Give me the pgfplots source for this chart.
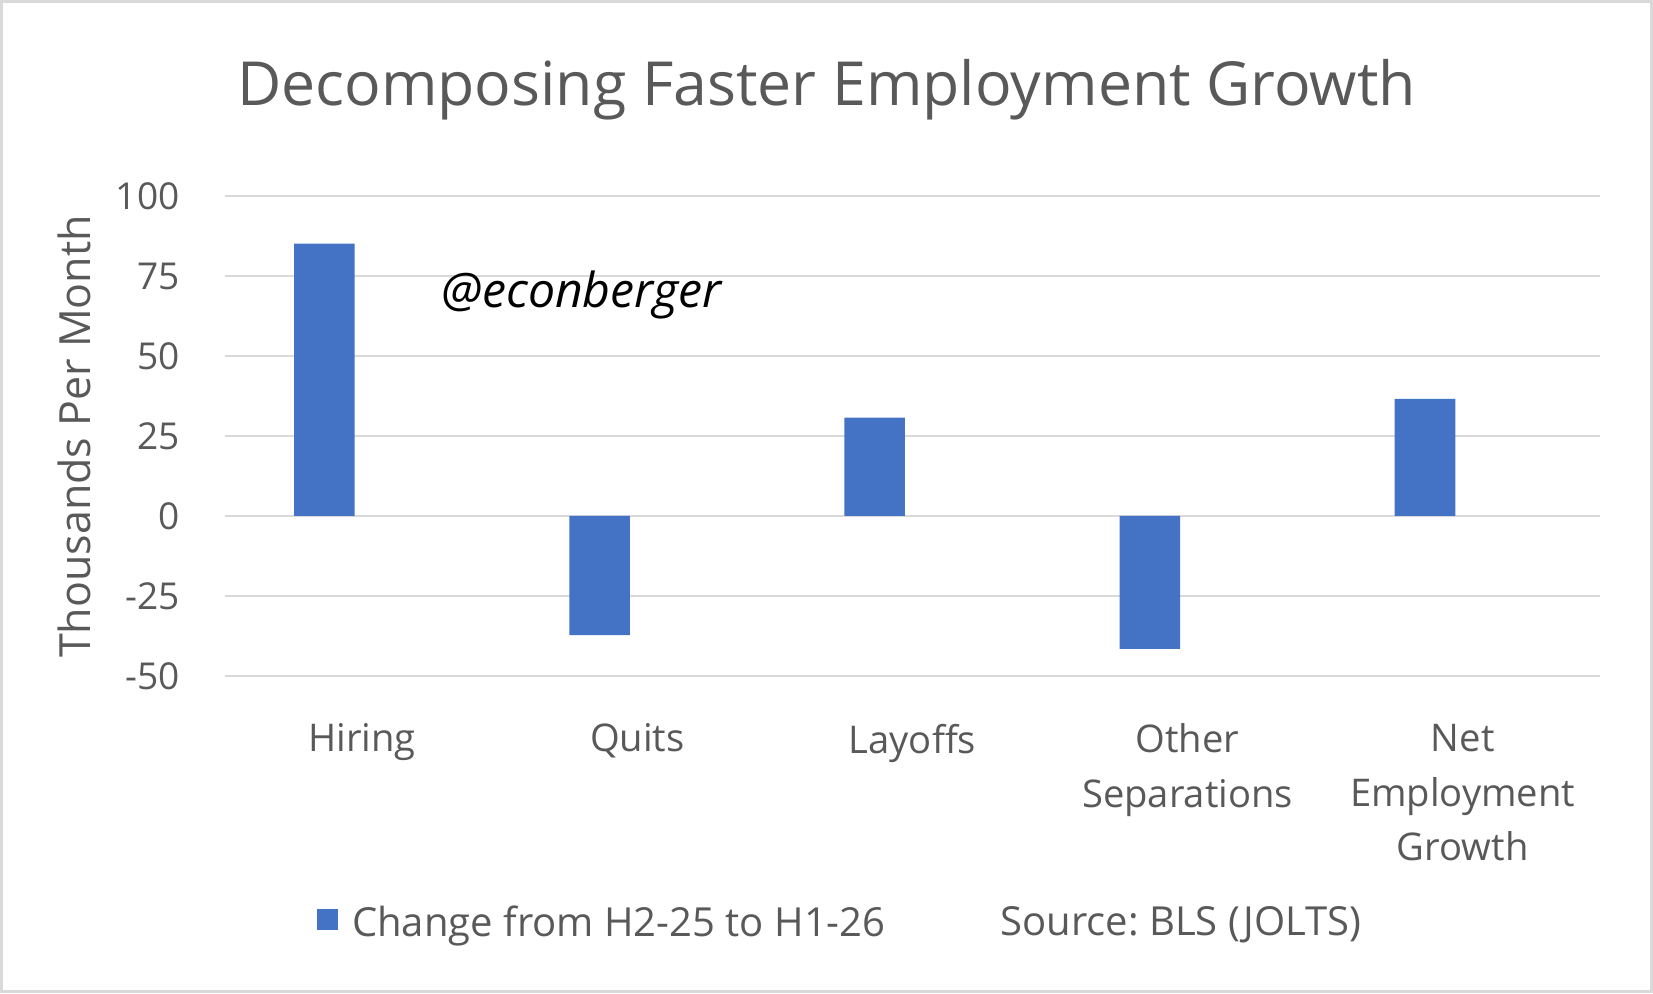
\documentclass[border=0pt]{standalone}
\usepackage{pgfplots}
\pgfplotsset{compat=1.18}
\usepackage{fontspec}
\setmainfont{Open Sans}
\definecolor{txt}{HTML}{595959}
\definecolor{gridc}{HTML}{D9D9D9}
\definecolor{barc}{HTML}{4472C4}
\frenchspacing
\begin{document}
\begin{tikzpicture}[x=1cm,y=1cm]
\draw[gridc, line width=0.8pt, fill=white] (0.014,0.014) rectangle (15.666,9.406);
\begin{axis}[
  at={(2.13cm,3.01cm)}, anchor=south west,
  scale only axis, width=13.05cm, height=4.55cm,
  xmin=-0.5, xmax=4.5, ymin=-50, ymax=100,
  axis line style={draw=none},
  major tick length=0pt,
  ytick={-50,-25,0,25,50,75,100},
  yticklabels={-50,-25,0,25,50,75,100},
  xtick={0,1,2,3,4},
  xticklabels={Hiring,Quits,Layoffs,Other\\Separations,Net\\Employment\\Growth},
  ymajorgrids,
  grid style={gridc, line width=0.55pt},
  yticklabel style={font=\fontsize{10}{12}\selectfont, text=txt, anchor=east, inner sep=0pt, xshift=-0.42cm},
  xticklabel style={font=\fontsize{10.3}{14.8}\selectfont, text=txt, align=center, anchor=north, inner sep=0pt, yshift=-0.45cm},
  legend columns=2,
  legend style={at={(axis description cs:0.0674,-0.5165)}, anchor=west, draw=none, fill=none,
    inner sep=0pt, outer sep=0pt, font=\fontsize{10.8}{13}\selectfont, text=txt,
    nodes={inner sep=0pt},
    /tikz/every odd column/.append style={column sep=0.13cm},
    /tikz/every even column/.append style={column sep=0.96cm}},
  legend cell align=left,
]
\addplot[ybar, bar width=0.22, bar shift=-0.137, fill=barc, draw=none,
  legend image code/.code={\fill[barc] (0cm,-0.06cm) rectangle (0.2cm,0.14cm);}]
  coordinates {(0,85.1) (1,-37.3) (2,30.7) (3,-41.6) (4,36.6)};
\addlegendentry{Change from H2-25 to H1-26}
\addlegendimage{empty legend}
\addlegendentry{Source: BLS (JOLTS)}
\end{axis}
\node[font=\fontsize{16.4}{20}\selectfont, text=txt, anchor=base] at (7.84,8.42) {Decomposing Faster Employment Growth};
\node[rotate=90, anchor=base, font=\fontsize{11.6}{14}\selectfont, text=txt, inner sep=0pt] at (0.86,5.28) {Thousands Per Month};
\node[font=\itshape\fontsize{13}{15}\selectfont, text=black, anchor=base west, inner sep=0pt] at (4.18,6.50) {@econberger};
\end{tikzpicture}
\end{document}
